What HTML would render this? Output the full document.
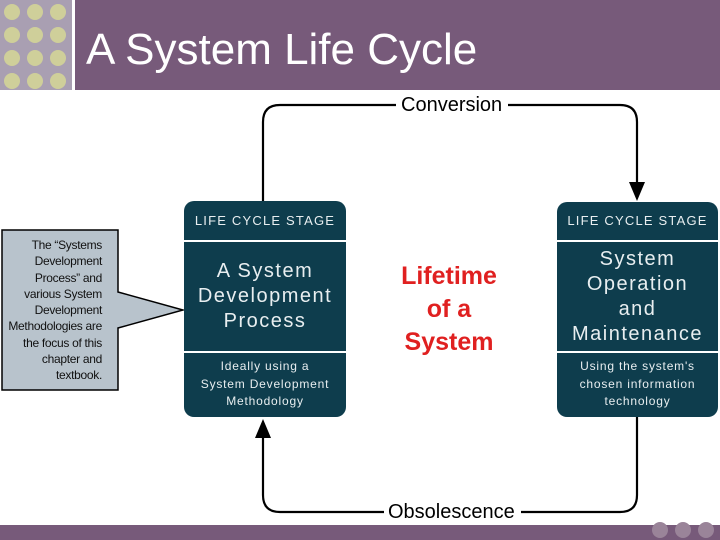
<!DOCTYPE html>
<html><head><style>
body{margin:0;width:720px;height:540px;overflow:hidden;background:#fff;font-family:"Liberation Sans",sans-serif;position:relative}
.a{position:absolute}
.box{position:absolute;background:#0e3d4d;border-radius:10px;color:#e8eef0;text-align:center}
</style></head><body>
<div class="a" style="left:0;top:0;width:72px;height:90px;background:#a99fb2"></div>
<div class="a" style="left:75px;top:0;width:645px;height:90px;background:#775a7a"></div>
<svg class="a" style="left:0;top:0" width="720" height="540">
<g fill="#cfcf9a">
<circle cx="12" cy="12" r="8"/><circle cx="35" cy="12" r="8"/><circle cx="58" cy="12" r="8"/>
<circle cx="12" cy="35" r="8"/><circle cx="35" cy="35" r="8"/><circle cx="58" cy="35" r="8"/>
<circle cx="12" cy="58" r="8"/><circle cx="35" cy="58" r="8"/><circle cx="58" cy="58" r="8"/>
<circle cx="12" cy="81" r="8"/><circle cx="35" cy="81" r="8"/><circle cx="58" cy="81" r="8"/>
</g>
<rect x="0" y="525" width="720" height="15" fill="#775a7a"/>
<g fill="#9a8499"><circle cx="660" cy="530" r="8"/><circle cx="683" cy="530" r="8"/><circle cx="706" cy="530" r="8"/></g>
<g fill="none" stroke="#000" stroke-width="2.2">
<path d="M263 201 V122 Q263 105 280 105 H396"/>
<path d="M508 105 H620 Q637 105 637 122 V185"/>
<path d="M637 417 V495 Q637 512 620 512 H521"/>
<path d="M384 512 H280 Q263 512 263 495 V436"/>
</g>
<polygon points="629,182 645,182 637,201" fill="#000"/>
<polygon points="255,438 271,438 263,419" fill="#000"/>
<polygon points="2,230 118,230 118,292 183,310 118,328 118,390 2,390" fill="#b8c3cc" stroke="#000" stroke-width="1.5"/>
</svg>
<div class="a" style="left:86px;top:25px;font-size:44px;color:#fff;line-height:50px">A System Life Cycle</div>
<div class="a" style="left:401px;top:93px;font-size:20px;line-height:24px">Conversion</div>
<div class="a" style="left:388px;top:500px;font-size:20px;line-height:24px">Obsolescence</div>
<div class="a" style="left:6px;top:237px;width:96px;text-align:right;font-size:12px;line-height:16.3px;color:#111;letter-spacing:-0.3px">The “Systems Development Process” and various System Development Methodologies are the focus of this chapter and textbook.</div>
<div class="a" style="left:385px;top:260px;width:128px;text-align:center;color:#e02020;font-weight:bold;font-size:25px;line-height:33px">Lifetime<br>of a<br>System</div>
<div class="box" style="left:184px;top:201px;width:162px;height:216px">
<div style="height:39px;line-height:39px;font-size:13px;letter-spacing:1.2px">LIFE CYCLE STAGE</div>
<div style="height:2px;background:#fff"></div>
<div style="height:109px;font-size:20px;letter-spacing:1.5px;line-height:25px;display:flex;align-items:center;justify-content:center">A System<br>Development<br>Process</div>
<div style="height:2px;background:#fff"></div>
<div style="font-size:12px;line-height:17.5px;letter-spacing:0.8px;padding-top:5px">Ideally using a<br>System Development<br>Methodology</div>
</div>
<div class="box" style="left:557px;top:202px;width:161px;height:215px">
<div style="height:38px;line-height:38px;font-size:13px;letter-spacing:1.2px">LIFE CYCLE STAGE</div>
<div style="height:2px;background:#fff"></div>
<div style="height:109px;font-size:20px;letter-spacing:1.5px;line-height:25px;display:flex;align-items:center;justify-content:center">System<br>Operation<br>and<br>Maintenance</div>
<div style="height:2px;background:#fff"></div>
<div style="font-size:12px;line-height:17.5px;letter-spacing:0.8px;padding-top:5px">Using the system's<br>chosen information<br>technology</div>
</div>
</body></html>
